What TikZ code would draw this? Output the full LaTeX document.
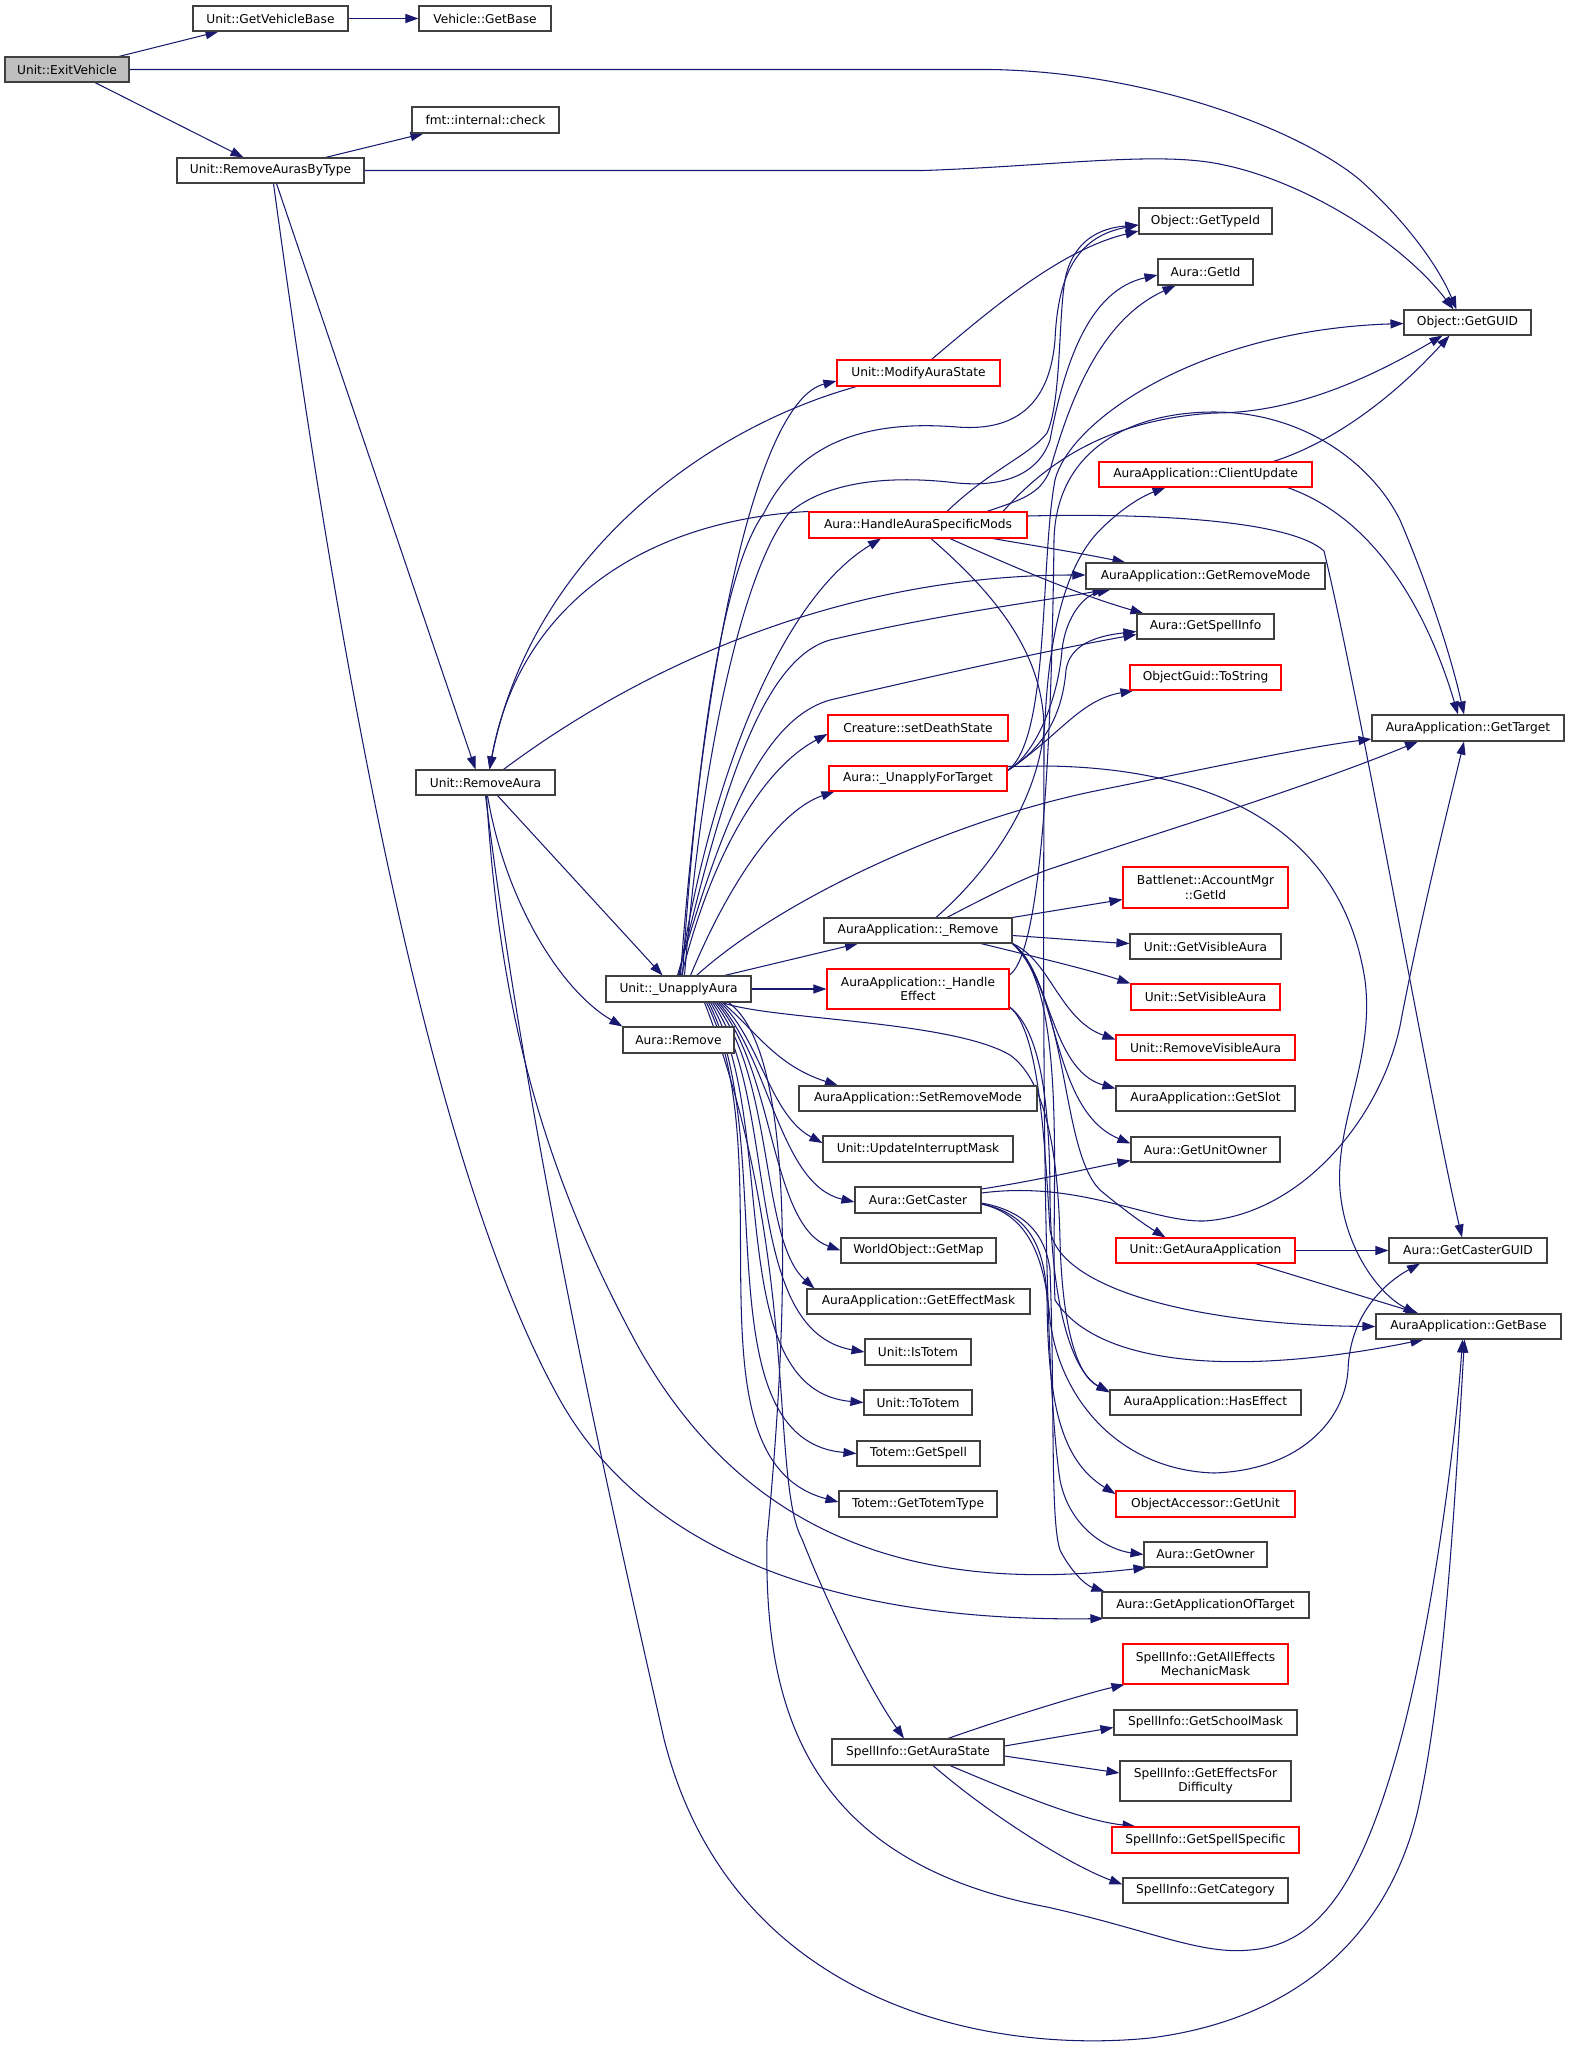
\documentclass[tikz,border=0pt]{standalone}
\usepackage{fontspec}
\setmainfont{DejaVu Sans}
\usetikzlibrary{arrows.meta}
\definecolor{edgec}{HTML}{191970}
\definecolor{boxc}{HTML}{404040}
\pgfdeclarelayer{back}
\pgfdeclarelayer{bg}
\pgfsetlayers{back,bg,main}
\newcommand\fs{\fontsize{12.2}{14.2}\selectfont}
\tikzset{
  nb/.style={draw=boxc, line width=1.1pt, fill=white, inner sep=0pt, font=\fs, align=center},
  nr/.style={nb, draw=red},
  ng/.style={nb, fill=black!25},
  e/.style={draw=edgec, line width=1.05pt, -{Triangle[length=13pt,width=9pt]}},
}
\begin{document}
\begin{tikzpicture}[x=1pt,y=-1pt]
\begin{pgfonlayer}{back}
\fill[white] (0,0) rectangle (1571,2050);
\end{pgfonlayer}
\useasboundingbox (0,0) rectangle (1571,2050);
% ---------- nodes ----------
\node[ng,minimum width=124pt,minimum height=25pt] (ev) at (67,69.5) {Unit::ExitVehicle};
\node[nb,minimum width=155pt,minimum height=25pt] (gvb) at (270.5,18.5) {Unit::GetVehicleBase};
\node[nb,minimum width=132pt,minimum height=25pt] (vgb) at (485,18.5) {Vehicle::GetBase};
\node[nb,minimum width=147pt,minimum height=26pt] (chk) at (485.5,120) {fmt::internal::check};
\node[nb,minimum width=187pt,minimum height=25pt] (rabt) at (270.5,170.5) {Unit::RemoveAurasByType};
\node[nb,minimum width=133pt,minimum height=26pt] (tid) at (1205.5,221) {Object::GetTypeId};
\node[nb,minimum width=95pt,minimum height=26pt] (aid) at (1205.5,272) {Aura::GetId};
\node[nb,minimum width=127pt,minimum height=25pt] (guid) at (1467.5,322.5) {Object::GetGUID};
\node[nr,minimum width=163pt,minimum height=26pt] (mas) at (918.5,373) {Unit::ModifyAuraState};
\node[nr,minimum width=213pt,minimum height=25pt] (cu) at (1205.5,474.5) {AuraApplication::ClientUpdate};
\node[nr,minimum width=218pt,minimum height=26pt] (has) at (918,525) {Aura::HandleAuraSpecificMods};
\node[nb,minimum width=239pt,minimum height=26pt] (grm) at (1205.5,576) {AuraApplication::GetRemoveMode};
\node[nb,minimum width=137pt,minimum height=25pt] (gsi) at (1205.5,626.5) {Aura::GetSpellInfo};
\node[nr,minimum width=151pt,minimum height=25pt] (ts) at (1205.5,677.5) {ObjectGuid::ToString};
\node[nr,minimum width=180pt,minimum height=26pt] (cds) at (918,728) {Creature::setDeathState};
\node[nb,minimum width=192pt,minimum height=26pt] (gt) at (1468,728) {AuraApplication::GetTarget};
\node[nr,minimum width=178pt,minimum height=25pt] (uft) at (918,778.5) {Aura::\_UnapplyForTarget};
\node[nb,minimum width=139pt,minimum height=25pt] (ra) at (485.5,782.5) {Unit::RemoveAura};
\node[nr,minimum width=165pt,minimum height=41pt] (bn) at (1205.5,887.5) {Battlenet::AccountMgr\\::GetId};
\node[nb,minimum width=188pt,minimum height=25pt] (rem) at (918,930.5) {AuraApplication::\_Remove};
\node[nb,minimum width=151pt,minimum height=25pt] (gva) at (1205.5,946.5) {Unit::GetVisibleAura};
\node[nb,minimum width=145pt,minimum height=26pt] (ua) at (678.5,989) {Unit::\_UnapplyAura};
\node[nr,minimum width=182pt,minimum height=40pt] (he) at (918,989) {AuraApplication::\_Handle\\Effect};
\node[nr,minimum width=149pt,minimum height=26pt] (sva) at (1205.5,997) {Unit::SetVisibleAura};
\node[nb,minimum width=111pt,minimum height=26pt] (arm) at (678.5,1040) {Aura::Remove};
\node[nr,minimum width=179pt,minimum height=25pt] (rva) at (1205.5,1047.5) {Unit::RemoveVisibleAura};
\node[nb,minimum width=238pt,minimum height=25pt] (srm) at (918,1098.5) {AuraApplication::SetRemoveMode};
\node[nb,minimum width=179pt,minimum height=25pt] (slot) at (1205.5,1098.5) {AuraApplication::GetSlot};
\node[nb,minimum width=190pt,minimum height=26pt] (uim) at (918,1149) {Unit::UpdateInterruptMask};
\node[nb,minimum width=149pt,minimum height=25pt] (guo) at (1205.5,1149.5) {Aura::GetUnitOwner};
\node[nb,minimum width=126pt,minimum height=26pt] (gc) at (918,1200) {Aura::GetCaster};
\node[nb,minimum width=155pt,minimum height=25pt] (gmap) at (918.5,1250.5) {WorldObject::GetMap};
\node[nr,minimum width=179pt,minimum height=25pt] (gaa) at (1205.5,1250.5) {Unit::GetAuraApplication};
\node[nb,minimum width=158pt,minimum height=25pt] (cg) at (1468,1250.5) {Aura::GetCasterGUID};
\node[nb,minimum width=223pt,minimum height=25pt] (gem) at (918.5,1301.5) {AuraApplication::GetEffectMask};
\node[nb,minimum width=185pt,minimum height=25pt] (gb) at (1468.5,1326.5) {AuraApplication::GetBase};
\node[nb,minimum width=106pt,minimum height=26pt] (ist) at (918,1352) {Unit::IsTotem};
\node[nb,minimum width=108pt,minimum height=25pt] (tot) at (918,1402.5) {Unit::ToTotem};
\node[nb,minimum width=191pt,minimum height=25pt] (hef) at (1205.5,1402.5) {AuraApplication::HasEffect};
\node[nb,minimum width=123pt,minimum height=25pt] (tgs) at (918.5,1453.5) {Totem::GetSpell};
\node[nb,minimum width=158pt,minimum height=26pt] (ttt) at (918,1504) {Totem::GetTotemType};
\node[nr,minimum width=179pt,minimum height=26pt] (ogu) at (1205.5,1504) {ObjectAccessor::GetUnit};
\node[nb,minimum width=123pt,minimum height=25pt] (own) at (1205.5,1554.5) {Aura::GetOwner};
\node[nb,minimum width=207pt,minimum height=26pt] (gat) at (1205.5,1605) {Aura::GetApplicationOfTarget};
\node[nr,minimum width=165pt,minimum height=40pt] (aem) at (1205.5,1664) {SpellInfo::GetAllEffects\\MechanicMask};
\node[nb,minimum width=183pt,minimum height=25pt] (sm) at (1205.5,1722.5) {SpellInfo::GetSchoolMask};
\node[nb,minimum width=172pt,minimum height=26pt] (gas) at (918,1752) {SpellInfo::GetAuraState};
\node[nb,minimum width=171pt,minimum height=40pt] (efd) at (1205.5,1781) {SpellInfo::GetEffectsFor\\Difficulty};
\node[nr,minimum width=187pt,minimum height=26pt] (ss) at (1205.5,1840) {SpellInfo::GetSpellSpecific};
\node[nb,minimum width=165pt,minimum height=25pt] (cat) at (1205.5,1890.5) {SpellInfo::GetCategory};
% ---------- edges ----------
\begin{pgfonlayer}{bg}
% ExitVehicle
\draw[e] ([xshift=52pt]ev.north) -- ([xshift=-52pt]gvb.south);
\draw[e] (gvb.east) -- (vgb.west);
\draw[e] ([xshift=28pt]ev.south) -- ([xshift=-27pt]rabt.north);
\draw[e] (ev.east) -- (990,69.5) .. controls (1150,72) and (1300,130) .. (1360,180) .. controls (1410,225) and (1440,270) .. ([xshift=-11pt]guid.north);
% RemoveAurasByType
\draw[e] ([xshift=55pt]rabt.north) -- ([xshift=-62pt]chk.south);
\draw[e] (rabt.east) -- (924,170.5) .. controls (1050,166) and (1150,152) .. (1214,163) .. controls (1300,178) and (1400,240) .. ([xshift=-14pt]guid.north);
\draw[e] ([xshift=6pt]rabt.south) -- ([xshift=-10pt]ra.north);
\draw[e] ([xshift=3pt]rabt.south) .. controls (330,600) and (420,1150) .. (560,1400) .. controls (650,1560) and (850,1622) .. ([xshift=2pt]gat.south west);
% into RemoveAura
\draw[e] ([xshift=-62pt]mas.south) .. controls (700,430) and (530,560) .. ([xshift=4pt]ra.north);
\draw[e] (has.north west) .. controls (650,520) and (520,600) .. ([xshift=4pt]ra.north);
% RemoveAura
\draw[e] ([xshift=12pt]ra.south) -- ([xshift=-16pt]ua.north);
\draw[e] ([xshift=2pt]ra.south) .. controls (505,900) and (560,990) .. (arm.north west);
\draw[e] ([xshift=18pt]ra.north) .. controls (650,660) and (850,575) .. ([yshift=1pt]grm.west);
\draw[e] ([xshift=1pt]ra.south) .. controls (498,980) and (530,1150) .. (640,1350) .. controls (760,1560) and (950,1590) .. ([xshift=3pt]own.south west);
\draw[e] (ra.south) .. controls (530,1150) and (610,1500) .. (664,1739) .. controls (730,2000) and (980,2055) .. (1150,2038) .. controls (1330,2015) and (1400,1900) .. (1420,1800) .. controls (1445,1680) and (1455,1500) .. ([xshift=-4pt]gb.south);
% ModifyAuraState
\draw[e] ([xshift=13pt]mas.north) .. controls (990,310) and (1060,250) .. ([yshift=-10pt]tid.west);
% _UnapplyAura upward
\draw[e] ([xshift=2pt]ua.north) .. controls (705,640) and (760,400) .. ([yshift=-8pt]mas.west);
\draw[e] ([xshift=4pt]ua.north) .. controls (700,700) and (730,560) .. (764,513) .. controls (800,440) and (870,420) .. (957,427) .. controls (1020,432) and (1050,400) .. (1055,340) .. controls (1058,270) and (1080,236) .. ([yshift=-4pt]tid.west);
\draw[e] ([xshift=6pt]ua.north) .. controls (705,720) and (750,560) .. (789,513) .. controls (830,478) and (900,476) .. (957,483) .. controls (1010,488) and (1040,470) .. (1050,440) .. controls (1065,360) and (1090,290) .. ([yshift=-3pt]aid.west);
\draw[e] ([xshift=1pt]ua.north) .. controls (710,780) and (780,600) .. ([xshift=-37pt]has.south);
\draw[e] (ua.north) .. controls (720,800) and (760,660) .. (830,640) .. controls (950,612) and (1050,600) .. ([xshift=-100pt]grm.south);
\draw[e] ([xshift=-1pt]ua.north) .. controls (720,830) and (760,720) .. (830,700) .. controls (950,672) and (1060,648) .. ([yshift=-8pt]gsi.west);
\draw[e] ([xshift=3pt]ua.north) .. controls (710,860) and (760,770) .. ([yshift=-6pt]cds.west);
\draw[e] ([xshift=12pt]ua.north) .. controls (730,880) and (780,810) .. ([xshift=6pt]uft.south west);
\draw[e] ([xshift=18pt]ua.north) .. controls (780,900) and (950,820) .. (1100,790) .. controls (1200,770) and (1300,748) .. ([yshift=-11pt]gt.west);
\draw[e] ([xshift=46pt]ua.north) -- ([xshift=-60pt]rem.south);
\draw[e] (ua.east) -- (he.west);
% _UnapplyAura downward
\draw[e] ([xshift=44pt]ua.south) .. controls (755,1030) and (775,1065) .. ([xshift=-80pt]srm.north);
\draw[e] ([xshift=42pt]ua.south) .. controls (760,1040) and (770,1115) .. ([yshift=6pt]uim.west);
\draw[e] ([xshift=40pt]ua.south) .. controls (770,1060) and (780,1185) .. ([yshift=-2pt]gc.west);
\draw[e] ([xshift=38pt]ua.south) .. controls (775,1070) and (770,1225) .. (gmap.west);
\draw[e] ([xshift=36pt]ua.south) .. controls (775,1080) and (760,1240) .. ([xshift=8pt]gem.north west);
\draw[e] ([xshift=34pt]ua.south) .. controls (780,1100) and (740,1330) .. (ist.west);
\draw[e] ([xshift=32pt]ua.south) .. controls (780,1120) and (720,1390) .. (tot.west);
\draw[e] ([xshift=30pt]ua.south) .. controls (780,1140) and (700,1440) .. (tgs.west);
\draw[e] ([xshift=28pt]ua.south) .. controls (785,1160) and (680,1460) .. ([yshift=2pt]ttt.west);
\draw[e] ([xshift=26pt]ua.south) .. controls (800,1250) and (770,1480) .. (802,1539) .. controls (830,1610) and (870,1690) .. ([xshift=-14pt]gas.north);
\draw[e] ([xshift=50pt]ua.south) .. controls (795,1050) and (790,1300) .. (767,1539) .. controls (764,1700) and (800,1860) .. (1047,1907) .. controls (1150,1930) and (1200,1955) .. (1250,1950) .. controls (1320,1945) and (1360,1880) .. (1395,1760) .. controls (1430,1640) and (1455,1450) .. ([xshift=-6pt]gb.south);
\draw[e] ([xshift=44pt]ua.south) .. controls (770,1020) and (950,1020) .. (1010,1055) .. controls (1045,1080) and (1058,1150) .. (1060,1240) .. controls (1062,1320) and (1075,1375) .. ([yshift=11pt]hef.west);
% HandleAuraSpecificMods
\draw[e] ([xshift=29pt]has.north) .. controls (990,470) and (1030,455) .. (1047,433) .. controls (1062,400) and (1058,310) .. (1066,275) .. controls (1075,240) and (1100,228) .. ([yshift=-4pt]tid.west);
\draw[e] ([xshift=69pt]has.north) .. controls (1020,500) and (1040,495) .. (1050,470) .. controls (1070,400) and (1100,320) .. ([xshift=-30pt]aid.south);
\draw[e] ([xshift=85pt]has.north) .. controls (1040,470) and (1100,420) .. (1214,413) .. controls (1280,413) and (1350,390) .. ([xshift=-25pt]guid.south);
\draw[e] ([xshift=75pt]has.south) .. controls (1030,545) and (1080,553) .. ([xshift=-80pt]grm.north);
\draw[e] ([xshift=32pt]has.south) .. controls (1020,570) and (1080,595) .. ([xshift=-62pt]gsi.north);
\draw[e] ([yshift=9pt]has.east) .. controls (1150,513) and (1290,520) .. (1324,551) .. controls (1360,700) and (1430,1100) .. ([xshift=-6pt]cg.north);
\draw[e] ([xshift=13pt]has.south) .. controls (990,590) and (1044,650) .. (1044,730) .. controls (1044,900) and (1040,1350) .. (1060,1480) .. controls (1070,1530) and (1110,1550) .. (own.west);
% _UnapplyForTarget
\draw[e] ([yshift=8pt]uft.east) .. controls (1035,755) and (1058,700) .. (1062,650) .. controls (1066,615) and (1085,595) .. ([xshift=-95pt]grm.south);
\draw[e] ([yshift=8pt]uft.east) .. controls (1040,750) and (1062,720) .. (1066,670) .. controls (1070,645) and (1095,636) .. ([yshift=-5pt]gsi.west);
\draw[e] ([yshift=8pt]uft.east) .. controls (1060,735) and (1080,700) .. ([xshift=4pt]ts.south west);
\draw[e] ([yshift=8pt]uft.east) .. controls (1050,740) and (1040,560) .. (1055,480) .. controls (1070,420) and (1200,330) .. ([yshift=-1pt]guid.west);
\draw[e] ([yshift=12pt]uft.east) -- (1047,766) .. controls (1200,768) and (1340,820) .. (1365,980) .. controls (1375,1060) and (1335,1120) .. (1340,1190) .. controls (1345,1250) and (1380,1295) .. ([xshift=-52pt]gb.north);
% ClientUpdate
\draw[e] ([xshift=68pt]cu.north) .. controls (1340,440) and (1400,390) .. ([xshift=-18pt]guid.south);
\draw[e] ([xshift=82pt]cu.south) .. controls (1380,520) and (1430,620) .. ([xshift=-10pt]gt.north);
% _Remove
\draw[e] ([xshift=18pt]rem.north) .. controls (990,870) and (1040,800) .. (1045,720) .. controls (1050,620) and (1070,560) .. (1100,530) .. controls (1120,510) and (1140,497) .. ([xshift=-40pt]cu.south);
\draw[e] ([xshift=29pt]rem.north) .. controls (990,895) and (1020,880) .. (1047,870) .. controls (1150,835) and (1300,790) .. ([xshift=-50pt]gt.south);
\draw[e] (rem.north east) -- ([yshift=-12pt]bn.west);
\draw[e] ([yshift=-5pt]rem.east) .. controls (1050,938) and (1100,942) .. ([yshift=3pt]gva.west);
\draw[e] ([xshift=63pt]rem.south) .. controls (1040,958) and (1090,970) .. (sva.north west);
\draw[e] (rem.south east) .. controls (1050,960) and (1060,1020) .. ([yshift=8pt]rva.west);
\draw[e] (rem.south east) .. controls (1050,970) and (1050,1070) .. ([yshift=10pt]slot.west);
\draw[e] (rem.south east) .. controls (1060,980) and (1050,1110) .. ([yshift=6pt]guo.west);
\draw[e] (rem.south east) .. controls (1070,1000) and (1060,1150) .. (1100,1190) .. controls (1130,1215) and (1150,1228) .. ([xshift=-40pt]gaa.north);
\draw[e] (rem.south east) .. controls (1070,990) and (1050,1200) .. (1055,1300) .. controls (1100,1370) and (1250,1375) .. ([xshift=-45pt]gb.south);
% _HandleEffect
\draw[e] ([yshift=-18pt]he.east) .. controls (1040,1030) and (1050,1100) .. (1050,1200) .. controls (1052,1300) and (1070,1370) .. ([yshift=10pt]hef.west);
\draw[e] ([yshift=-18pt]he.east) .. controls (1040,1030) and (1045,1150) .. (1050,1230) .. controls (1060,1290) and (1200,1325) .. (gb.west);
\draw[e] ([yshift=14pt]he.east) .. controls (1045,950) and (1052,700) .. (1054,540) .. controls (1056,450) and (1130,412) .. (1214,412) .. controls (1300,412) and (1370,460) .. (1400,520) .. controls (1430,590) and (1452,660) .. ([xshift=-4pt]gt.north);
% GetCaster
\draw[e] ([yshift=11pt]gc.east) .. controls (1040,1180) and (1090,1168) .. ([yshift=-11pt]guo.west);
\draw[e] ([yshift=7pt]gc.east) .. controls (1080,1180) and (1150,1222) .. (1204,1221) .. controls (1300,1215) and (1380,1120) .. (1400,1026) .. controls (1420,920) and (1450,800) .. ([xshift=-4pt]gt.south);
\draw[e] ([yshift=-3pt]gc.east) .. controls (1020,1210) and (1045,1230) .. (1050,1270) .. controls (1055,1400) and (1050,1520) .. (1060,1550) .. controls (1070,1570) and (1085,1585) .. ([xshift=3pt]gat.north west);
\draw[e] ([yshift=-4pt]gc.east) .. controls (1020,1212) and (1045,1235) .. (1047,1300) .. controls (1048,1400) and (1060,1460) .. ([yshift=10pt]ogu.west);
\draw[e] ([yshift=-4pt]gc.east) .. controls (1030,1215) and (1045,1260) .. (1050,1320) .. controls (1060,1400) and (1120,1470) .. (1214,1473) .. controls (1300,1470) and (1345,1420) .. (1348,1370) .. controls (1350,1310) and (1390,1280) .. ([xshift=-48pt]cg.south);
% GetAuraApplication
\draw[e] (gaa.east) -- (cg.west);
\draw[e] ([xshift=50pt]gaa.south) -- ([xshift=-50pt]gb.north);
% GetAuraState
\draw[e] ([xshift=30pt]gas.north) .. controls (1000,1720) and (1080,1695) .. ([xshift=2pt]aem.south west);
\draw[e] ([yshift=6pt]gas.east) -- ([yshift=-5pt]sm.west);
\draw[e] ([yshift=-4pt]gas.east) -- ([yshift=8pt]efd.west);
\draw[e] ([xshift=32pt]gas.south) .. controls (1020,1795) and (1080,1820) .. ([xshift=-70pt]ss.north);
\draw[e] ([xshift=15pt]gas.south) .. controls (990,1815) and (1070,1865) .. ([yshift=6pt]cat.west);
\end{pgfonlayer}
\end{tikzpicture}
\end{document}
